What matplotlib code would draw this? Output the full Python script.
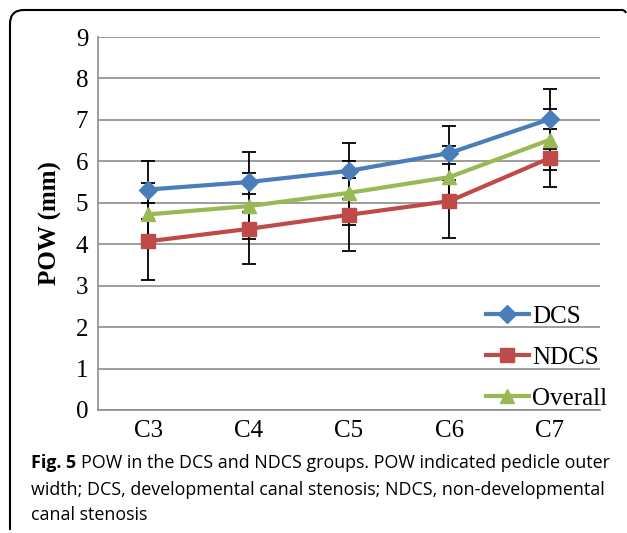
import matplotlib
matplotlib.use('Agg')
import matplotlib.pyplot as plt
from matplotlib.path import Path
from matplotlib.patches import PathPatch
import numpy as np

# данные
levels = ['C3', 'C4', 'C5', 'C6', 'C7']
dcs = [5.32, 5.50, 5.77, 6.20, 7.02]
dcs_err = [0.70, 0.72, 0.68, 0.65, 0.72]
ndcs = [4.07, 4.37, 4.71, 5.04, 6.08]
ndcs_err = [0.93, 0.85, 0.88, 0.89, 0.70]
overall = [4.72, 4.92, 5.24, 5.62, 6.52]
overall_err = [0.76, 0.80, 0.77, 0.75, 0.74]
y_ticks = [0, 1, 2, 3, 4, 5, 6, 7, 8, 9]

caption_1 = 'POW in the DCS and NDCS groups. POW indicated pedicle outer'
caption_2 = 'width; DCS, developmental canal stenosis; NDCS, non-developmental'
caption_3 = 'canal stenosis'

serif = 'Liberation Serif'
sans = 'Open Sans'

fig = plt.figure(figsize=(6.27, 5.33), dpi=100)
ax = fig.add_axes([98 / 627, 1 - 410 / 533, 502 / 627, 373 / 533])

x = np.arange(len(levels))
series = [
    ('DCS', dcs, dcs_err, '#4A7EBB', 'D', 9),
    ('NDCS', ndcs, ndcs_err, '#BE4B48', 's', 10),
    ('Overall', overall, overall_err, '#98B954', '^', 10),
]

# усы погрешностей под линиями
for name, vals, err, col, mk, ms in series:
    ax.errorbar(x, vals, yerr=err, fmt='none', ecolor='black',
                elinewidth=1.3, capsize=5, capthick=1.3, zorder=2)
for name, vals, err, col, mk, ms in series:
    ax.plot(x, vals, color=col, lw=3, marker=mk, markersize=ms,
            label=name, zorder=3)

ax.set_xlim(-0.5, len(levels) - 0.5)
ax.set_ylim(0, 9)
ax.set_yticks(y_ticks)
ax.set_xticks(x)
ax.set_xticklabels(levels)
ax.grid(axis='y', color='#8c8c8c', lw=1.2)
ax.set_axisbelow(True)
for s in ['top', 'right']:
    ax.spines[s].set_visible(False)
for s in ['left', 'bottom']:
    ax.spines[s].set_color('#8c8c8c')
    ax.spines[s].set_linewidth(1.2)
ax.tick_params(length=0, pad=7, labelsize=18)
for lab in ax.get_xticklabels() + ax.get_yticklabels():
    lab.set_fontfamily(serif)

ax.set_ylabel('POW (mm)', fontfamily=serif, fontweight='bold', fontsize=18,
              labelpad=10)

leg = ax.legend(loc='lower left', bbox_to_anchor=(0.752, -0.027), frameon=False,
                prop={'family': serif, 'size': 18}, handlelength=1.75,
                handletextpad=0.1, labelspacing=0.74, borderaxespad=0)

# рамка вокруг рисунка
verts = [(10, 530), (10, 24), (10, 10), (24, 10), (622, 10), (625, 10), (626, 13)]
codes = [Path.MOVETO, Path.LINETO, Path.CURVE3, Path.CURVE3, Path.LINETO,
         Path.CURVE3, Path.CURVE3]
verts = [(vx / 627, 1 - vy / 533) for vx, vy in verts]
fig.add_artist(PathPatch(Path(verts, codes), transform=fig.transFigure,
                         fill=False, lw=1.5, edgecolor='black'))

# подпись
fs = 12.9
t = fig.text(31 / 627, 1 - 463 / 533, 'Fig. 5', fontfamily=sans, fontweight='bold',
             fontsize=fs, va='center')
fig.canvas.draw()
bb = t.get_window_extent()
fig.text((bb.x1 + 5) / 627, 1 - 463 / 533, caption_1, fontfamily=sans,
         fontsize=fs, va='center')
fig.text(31 / 627, 1 - 490 / 533, caption_2, fontfamily=sans, fontsize=fs,
         va='center')
fig.text(31 / 627, 1 - 515 / 533, caption_3, fontfamily=sans, fontsize=fs,
         va='center')

fig.savefig('out.png', dpi=100)
